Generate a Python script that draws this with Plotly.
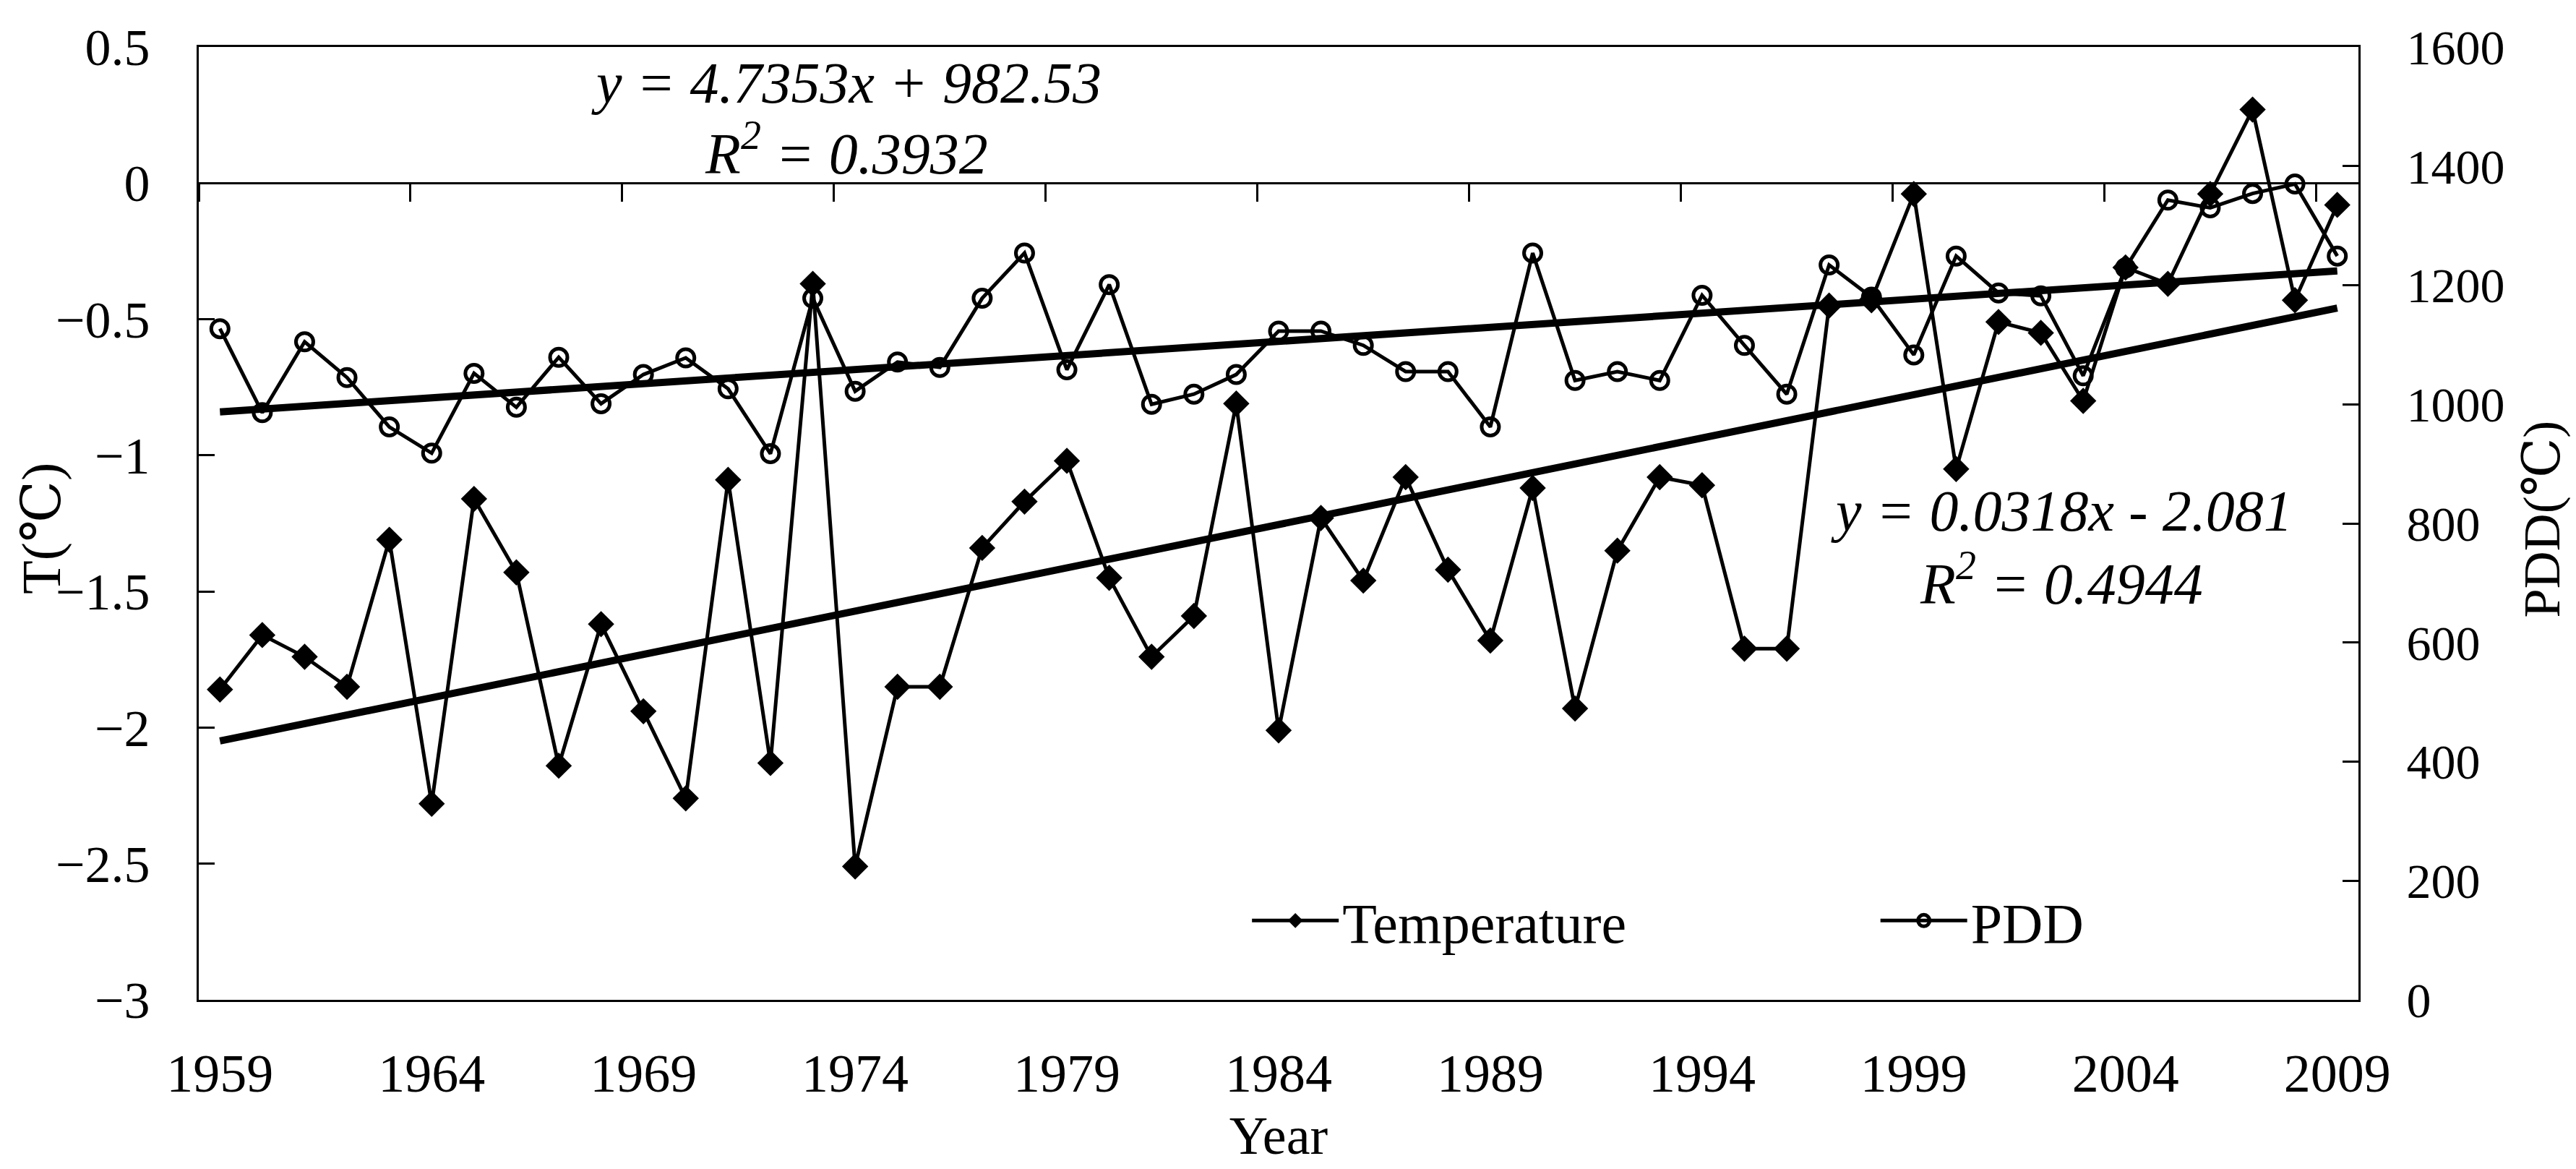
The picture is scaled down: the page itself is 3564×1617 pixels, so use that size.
import numpy as np
import plotly.graph_objects as go

# categories
years = list(range(1959, 2010))
year_labels = years[::5]

# mean annual temperature (left axis, degC)
temperature = [
    -1.86, -1.66, -1.74, -1.85, -1.31, -2.28, -1.16, -1.43, -2.14, -1.62,
    -1.94, -2.26, -1.09, -2.13, -0.37, -2.51, -1.85, -1.85, -1.34, -1.17,
    -1.02, -1.45, -1.74, -1.59, -0.81, -2.01, -1.23, -1.46, -1.08, -1.42,
    -1.68, -1.12, -1.93, -1.35, -1.08, -1.11, -1.71, -1.71, -0.45, -0.43,
    -0.04, -1.05, -0.51, -0.55, -0.80, -0.31, -0.37, -0.04, 0.27, -0.43,
    -0.08,
]

# positive degree days (right axis, degC)
pdd = [
    1127, 986, 1105, 1045, 962, 918, 1052, 995, 1079, 1001,
    1050, 1078, 1026, 917, 1178, 1022, 1071, 1062, 1178, 1254,
    1058, 1201, 1000, 1017, 1050, 1123, 1123, 1099, 1055, 1055,
    962, 1254, 1040, 1055, 1040, 1183, 1099, 1017, 1234, 1180,
    1083, 1249, 1187, 1182, 1048, 1229, 1343, 1330, 1354, 1370,
    1249,
]

# linear trend coefficients as printed on the chart (x = 1 for 1959)
temp_fit = (0.0318, -2.081)
pdd_fit = (4.7353, 982.53)

T_RANGE = [-3, 0.5]
PDD_RANGE = [0, 1600]
X_RANGE = [years[0] - 0.5, years[-1] + 0.5]

FONT = "Liberation Serif, DejaVu Serif, Noto Sans CJK SC, serif"

idx = np.arange(1, len(years) + 1)
temp_trend = temp_fit[0] * idx + temp_fit[1]
pdd_trend = pdd_fit[0] * idx + pdd_fit[1]

fig = go.Figure()

fig.add_trace(go.Scatter(
    x=years, y=temperature, name="Temperature",
    mode="lines+markers",
    line=dict(color="black", width=5),
    marker=dict(symbol="diamond", size=28, color="black"),
    yaxis="y", legend="legend",
))
fig.add_trace(go.Scatter(
    x=years, y=pdd, name="PDD",
    mode="lines+markers",
    line=dict(color="black", width=5),
    marker=dict(symbol="circle-open", size=24, color="black",
                line=dict(width=5, color="black")),
    yaxis="y2", legend="legend2",
))
fig.add_trace(go.Scatter(
    x=years, y=temp_trend, mode="lines", showlegend=False,
    line=dict(color="black", width=10), xaxis="x2", yaxis="y",
    hoverinfo="skip",
))
fig.add_trace(go.Scatter(
    x=years, y=pdd_trend, mode="lines", showlegend=False,
    line=dict(color="black", width=10), yaxis="y2",
    hoverinfo="skip",
))

zero_pos = (0 - T_RANGE[0]) / (T_RANGE[1] - T_RANGE[0])

eq_font = dict(family=FONT, size=80, color="black", style="italic")
annotations = [
    dict(text="y = 4.7353x + 982.53", x=0.300, y=0.962),
    dict(text="R<sup>2</sup> = 0.3932", x=0.300, y=0.893),
    dict(text="y = 0.0318x - 2.081", x=0.8625, y=0.513),
    dict(text="R<sup>2</sup> = 0.4944", x=0.8625, y=0.441),
]
for a in annotations:
    a.update(xref="paper", yref="paper", showarrow=False,
             xanchor="center", yanchor="middle", font=eq_font)

annotations.append(dict(
    text="T(℃)", xref="paper", yref="paper", x=-0.0726, y=0.495,
    textangle=-90, showarrow=False, xanchor="center", yanchor="middle",
    font=dict(family=FONT, size=76, color="black"),
))
annotations.append(dict(
    text="PDD(℃)", xref="paper", yref="paper", x=1.085, y=0.505,
    textangle=-90, showarrow=False, xanchor="center", yanchor="middle",
    font=dict(family=FONT, size=72, color="black"),
))

legend_style = dict(
    orientation="h", xanchor="left", yanchor="middle", y=0.083,
    font=dict(size=78), bgcolor="rgba(0,0,0,0)", itemwidth=120,
)

fig.update_layout(
    width=3564, height=1617,
    margin=dict(l=267, r=309, t=57, b=242),
    paper_bgcolor="white", plot_bgcolor="white",
    font=dict(family=FONT, size=72, color="black"),
    xaxis=dict(
        range=X_RANGE, tickvals=year_labels, ticks="",
        showline=True, mirror=True, linecolor="black", linewidth=3,
        showgrid=False, zeroline=False,
        ticklabelstandoff=35,
        tickfont=dict(size=74),
        title=dict(text="Year", font=dict(size=74), standoff=20),
    ),
    xaxis2=dict(
        range=X_RANGE, overlaying="x", anchor="free", position=zero_pos,
        tick0=X_RANGE[0], dtick=5, ticks="outside", ticklen=24,
        tickwidth=3, tickcolor="black", showticklabels=False,
        showline=True, linecolor="black", linewidth=2.5,
        showgrid=False, zeroline=False,
    ),
    yaxis=dict(
        range=T_RANGE, tick0=0, dtick=0.5, ticks="inside", ticklen=22,
        tickwidth=3, tickcolor="black",
        showline=True, linecolor="black", linewidth=3,
        showgrid=False, zeroline=False,
        ticklabelstandoff=50, tickfont=dict(size=72),
    ),
    yaxis2=dict(
        range=PDD_RANGE, dtick=200, overlaying="y", side="right",
        ticks="inside", ticklen=22, tickwidth=3, tickcolor="black",
        showline=True, linecolor="black", linewidth=3,
        showgrid=False, zeroline=False,
        ticklabelstandoff=50, tickfont=dict(size=68),
    ),
    legend=dict(legend_style, x=0.486),
    legend2=dict(legend_style, x=0.777),
    annotations=annotations,
    showlegend=True,
)

fig.write_html("out.html")
